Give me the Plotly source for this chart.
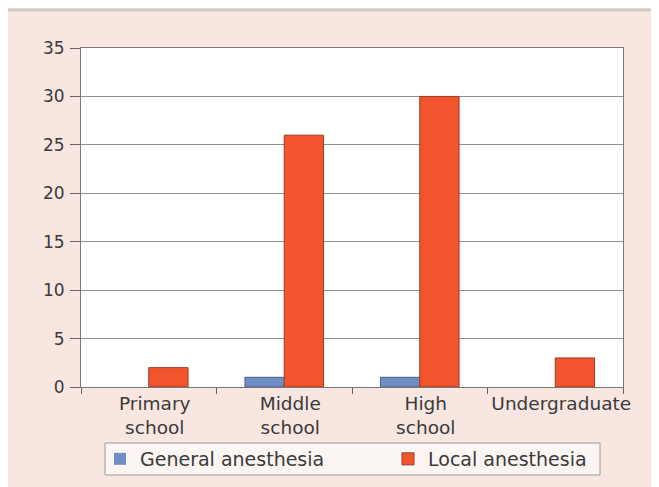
import plotly.graph_objects as go

categories = ["Primary<br>school", "Middle<br>school", "High<br>school", "Undergraduate"]
general_anesthesia = [0, 1, 1, 0]
local_anesthesia = [2, 26, 30, 3]
series_names = ["General anesthesia", "Local anesthesia"]
y_ticks = [0, 5, 10, 15, 20, 25, 30, 35]

# page body has an 8px margin; figure is placed at (8, 8)
W, H = 651, 479
L, R, T, B = 73, 36, 40, 100
pw, ph = W - L - R, H - T - B

def px_x(p):
    return (p - L) / pw

def px_y(p):
    return (H - B - p) / ph

fig = go.Figure()
fig.add_trace(go.Bar(
    x=categories, y=general_anesthesia, name=series_names[0], legend="legend",
    marker=dict(color="#6f8fc4",
                line=dict(color="#4a5f85", width=[0 if v == 0 else 1 for v in general_anesthesia])),
))
fig.add_trace(go.Bar(
    x=categories, y=local_anesthesia, name=series_names[1], legend="legend2",
    marker=dict(color="#f2552e", line=dict(color="#9c3a22", width=1)),
))

font_family = "DejaVu Sans"
text_col = "#3a3a3a"

legend_common = dict(
    orientation="h",
    yanchor="middle",
    y=px_y(451),
    bgcolor="rgba(0,0,0,0)",
    borderwidth=0,
    font=dict(size=19, color=text_col),
    xanchor="left",
)

fig.update_layout(
    width=W, height=H,
    margin=dict(l=L, r=R, t=T, b=B, pad=0, autoexpand=False),
    paper_bgcolor="#f8e6e1",
    plot_bgcolor="#ffffff",
    barmode="group",
    bargap=0.42,
    bargroupgap=0,
    font=dict(family=font_family, size=17, color=text_col),
    showlegend=True,
    legend=dict(legend_common, x=px_x(92)),
    legend2=dict(legend_common, x=px_x(380)),
    xaxis=dict(
        type="category",
        showline=True, linecolor="#777777", linewidth=1, mirror=True,
        ticks="outside", tickson="boundaries", ticklen=6, tickcolor="#666666",
        tickfont=dict(size=18.5, color=text_col),
        tickangle=0,
        ticklabelshift=6,
        showgrid=False,
    ),
    yaxis=dict(
        range=[0, 35], tickvals=y_ticks,
        showline=True, linecolor="#777777", linewidth=1, mirror=True,
        ticks="outside", ticklen=10, tickcolor="#666666",
        ticklabelstandoff=2,
        gridcolor="#8f8f8f", gridwidth=1,
        zeroline=False,
        tickfont=dict(size=17, color=text_col),
    ),
    shapes=[
        dict(type="line", xref="paper", yref="paper", layer="above",
             x0=px_x(0), x1=px_x(W), y0=px_y(2), y1=px_y(2),
             line=dict(color="#d3cac6", width=3)),
        dict(type="rect", xref="paper", yref="paper", layer="below",
             x0=px_x(97), x1=px_x(592), y0=px_y(435), y1=px_y(467),
             fillcolor="#fbf5f3", line=dict(color="#9a9a9a", width=1)),
    ],
)

fig.write_html("out.html")
